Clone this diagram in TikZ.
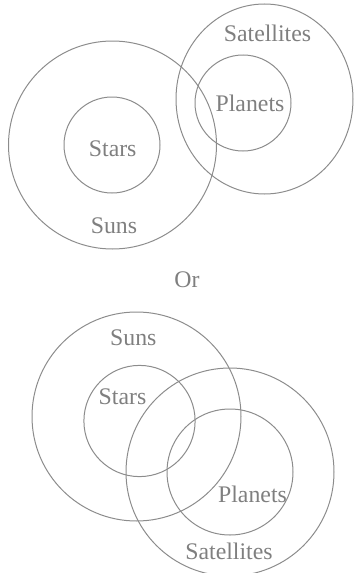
\documentclass[tikz,border=0pt]{standalone}
\usepackage{fontspec}
\setmainfont{Liberation Serif}
\definecolor{ringgray}{HTML}{8C8C8C}
\definecolor{textgray}{HTML}{7F7F7F}

\begin{document}
\begin{tikzpicture}[
    x=0.5pt, y=-0.5pt,
    ring/.style={draw=ringgray, line width=0.5pt},
    setname/.style={text=textgray, font=\fontsize{11.9}{14}\selectfont, anchor=base, inner sep=0pt}
]
\useasboundingbox (0,0) rectangle (354,573);

% first arrangement
\draw[ring] (112.5,145) circle [radius=52pt];
\draw[ring] (112,145) circle [radius=24pt];
\draw[ring] (264.5,99) ellipse [x radius=44.25pt, y radius=47.5pt];
\draw[ring] (243,103) circle [radius=24pt];
\node[setname] (satA) at (267.5,41.7) {Satellites};
\node[setname] (planA) at (250,111.7) {Planets};
\node[setname] (starA) at (112.7,156) {Stars};
\node[setname] (sunA) at (114,233) {Suns};

\node[setname] (or) at (187,287) {Or};

% second arrangement
\draw[ring] (136.5,416.5) circle [radius=52.25pt];
\draw[ring] (139.5,421) circle [radius=27.8pt];
\draw[ring] (230,472) circle [radius=52pt];
\draw[ring] (230,472) circle [radius=31.5pt];
\node[setname] (sunB) at (133.3,345.7) {Suns};
\node[setname] (starB) at (122.5,404) {Stars};
\node[setname] (planB) at (252.5,502.7) {Planets};
\node[setname] (satB) at (229,559.3) {Satellites};
\end{tikzpicture}
\end{document}
